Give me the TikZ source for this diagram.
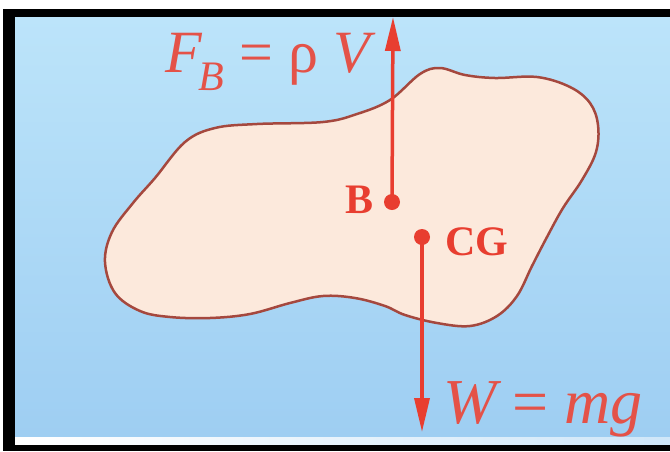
\documentclass[tikz,border=0pt]{standalone}
\usepackage{fontspec}
\setmainfont{Liberation Serif}
\usetikzlibrary{arrows.meta}
\definecolor{bgtop}{RGB}{188,228,250}
\definecolor{bgbot}{RGB}{158,206,242}
\definecolor{blobfill}{RGB}{252,233,220}
\definecolor{blobline}{RGB}{165,72,62}
\definecolor{forcered}{RGB}{232,62,48}
\definecolor{labelred}{RGB}{228,82,72}
\begin{document}
\begin{tikzpicture}[x=1pt,y=-1pt,
  force/.style={draw=forcered,line width=3.5pt,-{Triangle[length=34pt,width=15pt]}},
  dotpt/.style={circle,fill=forcered,inner sep=0pt,minimum size=16pt},
  ptlabel/.style={text=forcered,font=\fontsize{42}{42}\selectfont\bfseries,inner sep=0pt},
  eqlabel/.style={text=labelred,inner sep=0pt}]
\useasboundingbox (0,0) rectangle (670,451);
\fill[white] (0,0) rectangle (670,451);
\fill[black] (3,9) rectangle (670,451);
\shade[top color=bgtop,bottom color=bgbot] (15,17) rectangle (670,437);
\shade[left color=white,right color=bgbot!50!white] (15,437) rectangle (670,444);
% body
\draw[blobline,fill=blobfill,line width=2.5pt] plot[smooth cycle,tension=0.6] coordinates {
 (105,262) (112,232) (133,203) (155,178) (185,142) (215,128) (257,124) (323,122)
 (357,114) (390,100) (420,74) (440,68) (465,75) (495,78) (537,77) (570,87)
 (590,103) (598,125) (596,152) (582,180) (563,208) (547,237) (532,266) (517,296)
 (497,316) (470,326) (437,323) (405,315) (385,306) (355,298) (323,296) (290,303)
 (250,314) (210,318) (170,317) (140,311) (115,293)};
% points and forces
\node[dotpt] (B) at (392,202) {};
\node[dotpt] (CG) at (422,237) {};
\coordinate (top) at (393,17);
\coordinate (bot) at (422,432);
\draw[force] (B.center) -- (top);
\draw[force] (CG.center) -- (bot);
% labels
\node[ptlabel,anchor=base east] (Blab) at (374,213) {B};
\node[ptlabel,anchor=base west] (CGlab) at (445,255) {CG};
\node[eqlabel,anchor=base west,font=\fontsize{60}{60}\selectfont] (FB) at (165,72)
  {\itshape F\kern-0.05em\raisebox{-0.3em}{\fontsize{42}{42}\selectfont B} \upshape= ρ \itshape V};
\node[eqlabel,anchor=base west,font=\fontsize{64}{64}\selectfont] (Wlab) at (443,423)
  {\itshape W \upshape= \itshape mg};
\end{tikzpicture}
\end{document}
